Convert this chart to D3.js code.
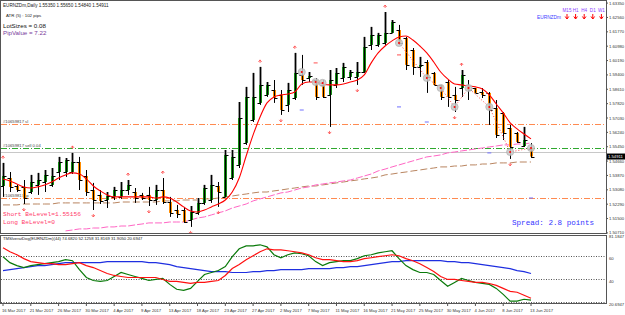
<!DOCTYPE html>
<meta charset="utf-8">
<style>
body { margin:0; background:#fff; }
svg { display:block; font-family: "Liberation Sans", Arial, sans-serif; }
.lbl { font-size:4.2px; fill:#333; }
</style>
<script src="https://cdn.jsdelivr.net/npm/d3@7/dist/d3.min.js"></script>
<body>
<div id="chart"></div>
<script>
// daily bars 16 Mar 2017 .. 13 Jun 2017 (broker with Sunday bars)
var dateLabels = ["16 Mar 2017","21 Mar 2017","26 Mar 2017","30 Mar 2017","4 Apr 2017","9 Apr 2017",
  "13 Apr 2017","18 Apr 2017","23 Apr 2017","27 Apr 2017","2 May 2017","7 May 2017","11 May 2017",
  "16 May 2017","21 May 2017","25 May 2017","30 May 2017","4 Jun 2017","8 Jun 2017","13 Jun 2017"];

var open = [1.5329,1.5373,1.5329,1.5324,1.5296,1.5335,1.5351,1.5335,1.5406,1.5406,
  1.5406,1.5461,1.5384,1.5307,1.5280,1.5252,1.5269,1.5269,1.5307,1.5296,
  1.5280,1.5280,1.5252,1.5307,1.5241,1.5197,1.5197,1.5142,1.5181,1.5236,
  1.5252,1.5329,1.5269,1.5373,1.5445,1.5566,1.5692,1.5786,1.5830,1.5857,
  1.5830,1.5775,1.5813,1.5940,1.5923,1.5912,1.5885,1.5830,1.5885,1.5923,
  1.5929,1.5929,1.5956,1.6105,1.6105,1.6116,1.6171,1.6187,1.6143,1.6077,
  1.5984,1.6011,1.5951,1.5885,1.5901,1.5830,1.5868,1.5885,1.5868,1.5846,
  1.5841,1.5758,1.5731,1.5648,1.5621,1.5549,1.5535];
var high = [1.5456,1.5406,1.5335,1.5362,1.5390,1.5401,1.5417,1.5428,1.5489,1.5483,
  1.5511,1.5489,1.5417,1.5346,1.5307,1.5296,1.5324,1.5351,1.5362,1.5318,
  1.5291,1.5324,1.5335,1.5373,1.5269,1.5225,1.5214,1.5219,1.5263,1.5335,
  1.5390,1.5351,1.5527,1.5527,1.5791,1.5874,1.5951,1.5984,1.5901,1.5912,
  1.5857,1.5896,1.6061,1.6050,1.5956,1.5923,1.5912,1.5967,1.5978,1.6006,
  1.5967,1.6011,1.6149,1.6204,1.6171,1.6286,1.6242,1.6215,1.6149,1.6088,
  1.6039,1.6022,1.5956,1.5885,1.5912,1.5874,1.5967,1.5912,1.5868,1.5868,
  1.5846,1.5802,1.5736,1.5665,1.5626,1.5654,1.5565];
var low = [1.5269,1.5296,1.5296,1.5230,1.5285,1.5280,1.5296,1.5324,1.5362,1.5379,
  1.5395,1.5307,1.5274,1.5197,1.5230,1.5208,1.5252,1.5258,1.5280,1.5236,
  1.5252,1.5219,1.5225,1.5230,1.5159,1.5153,1.5126,1.5104,1.5170,1.5225,
  1.5236,1.5214,1.5269,1.5362,1.5428,1.5555,1.5681,1.5775,1.5819,1.5786,
  1.5720,1.5736,1.5802,1.5885,1.5901,1.5802,1.5813,1.5654,1.5868,1.5901,
  1.5912,1.5885,1.5951,1.6077,1.6094,1.6105,1.6171,1.6105,1.5967,1.5940,
  1.5929,1.5841,1.5885,1.5802,1.5764,1.5736,1.5819,1.5802,1.5841,1.5813,
  1.5665,1.5593,1.5582,1.5478,1.5566,1.5544,1.5484];
var close = [1.5384,1.5324,1.5307,1.5263,1.5351,1.5362,1.5390,1.5384,1.5461,1.5472,
  1.5461,1.5362,1.5296,1.5252,1.5247,1.5274,1.5307,1.5307,1.5335,1.5263,
  1.5263,1.5252,1.5307,1.5241,1.5181,1.5175,1.5131,1.5186,1.5236,1.5318,
  1.5335,1.5296,1.5500,1.5489,1.5703,1.5819,1.5819,1.5885,1.5885,1.5813,
  1.5747,1.5857,1.5951,1.5912,1.5934,1.5819,1.5819,1.5912,1.5951,1.5984,
  1.5956,1.5956,1.6094,1.6160,1.6160,1.6171,1.6231,1.6116,1.5995,1.5984,
  1.5995,1.5929,1.5885,1.5819,1.5819,1.5802,1.5940,1.5857,1.5841,1.5830,
  1.5747,1.5610,1.5621,1.5544,1.5571,1.5582,1.54911];

// moving averages
var maRed = [1.5368,1.5357,1.5340,1.5324,1.5318,1.5324,1.5335,1.5351,1.5373,1.5390,
  1.5401,1.5395,1.5368,1.5329,1.5302,1.5280,1.5269,1.5269,1.5269,1.5269,
  1.5269,1.5269,1.5263,1.5269,1.5263,1.5241,1.5214,1.5192,1.5186,1.5197,
  1.5214,1.5230,1.5252,1.5296,1.5373,1.5494,1.5610,1.5709,1.5786,1.5819,
  1.5830,1.5835,1.5846,1.5890,1.5901,1.5901,1.5890,1.5885,1.5885,1.5890,
  1.5901,1.5912,1.5940,1.6006,1.6061,1.6099,1.6127,1.6149,1.6154,1.6132,
  1.6099,1.6061,1.6011,1.5956,1.5918,1.5890,1.5885,1.5879,1.5874,1.5863,
  1.5830,1.5780,1.5731,1.5676,1.5643,1.5615,1.5588];
var maPink = [null,null,null,null,null,null,null,null,null,1.5082,
  1.5087,1.5093,1.5093,1.5098,1.5098,1.5104,1.5104,1.5109,1.5109,1.5115,
  1.5120,1.5126,1.5126,1.5126,1.5131,1.5131,1.5131,1.5142,1.5153,1.5159,
  1.5170,1.5181,1.5192,1.5208,1.5219,1.5230,1.5247,1.5258,1.5269,1.5280,
  1.5291,1.5296,1.5307,1.5318,1.5324,1.5335,1.5340,1.5346,1.5351,1.5357,
  1.5362,1.5373,1.5384,1.5395,1.5412,1.5422,1.5434,1.5445,1.5456,1.5467,
  1.5478,1.5489,1.5494,1.5500,1.5511,1.5516,1.5522,1.5527,1.5533,1.5538,
  1.5544,1.5549,1.5555,1.5555,1.5560,1.5560,1.5566];
var maBrown = [1.5225,1.5225,1.5225,1.5230,1.5230,1.5230,1.5230,1.5230,1.5236,1.5236,
  1.5236,1.5236,1.5236,1.5236,1.5236,1.5236,1.5236,1.5241,1.5241,1.5241,
  1.5241,1.5241,1.5241,1.5247,1.5247,1.5247,1.5252,1.5252,1.5252,1.5258,
  1.5258,1.5263,1.5269,1.5274,1.5280,1.5285,1.5291,1.5296,1.5296,1.5302,
  1.5307,1.5313,1.5318,1.5324,1.5329,1.5329,1.5335,1.5340,1.5346,1.5351,
  1.5357,1.5362,1.5368,1.5373,1.5379,1.5390,1.5395,1.5401,1.5406,1.5412,
  1.5417,1.5423,1.5428,1.5434,1.5434,1.5439,1.5439,1.5445,1.5445,1.5450,
  1.5450,1.5456,1.5456,1.5456,1.5461,1.5461,1.5461];

// oscillator sub window
var oscGreen = [59.6,54.4,51.8,50.1,51.8,52.7,53.5,54.4,55.3,57.0,
  56.1,48.3,41.4,38.8,38.0,38.8,42.3,45.8,44.0,42.3,
  40.6,38.8,39.7,40.6,35.4,31.1,30.2,31.9,38.0,44.0,
  45.8,47.5,50.9,59.6,66.5,69.1,69.1,70.0,68.2,61.3,
  58.7,61.3,63.0,62.2,60.4,55.3,51.8,54.4,55.3,56.1,
  56.1,57.9,60.4,61.3,63.0,63.9,64.8,57.9,51.8,48.3,
  45.8,45.8,44.0,38.8,33.7,37.1,40.6,38.8,37.1,36.2,
  35.4,31.9,26.7,20.7,20.7,22.4,21.6];
var oscRed = [67.4,63.9,61.3,57.9,55.3,54.4,53.5,53.5,52.7,52.7,
  53.5,54.4,51.8,50.1,47.5,44.9,43.2,42.3,41.4,41.4,
  41.4,41.4,41.4,39.7,38.0,38.0,37.1,36.2,37.1,37.1,
  38.0,38.8,43.2,49.2,52.7,57.0,60.4,63.9,66.5,65.6,
  65.6,64.8,63.9,63.0,61.3,58.7,57.0,57.0,56.1,55.3,
  55.3,56.1,57.9,58.7,59.6,60.4,61.3,60.4,57.9,56.1,
  53.5,50.1,46.6,42.3,39.7,39.7,38.8,38.0,37.1,37.1,
  36.2,34.5,31.9,29.3,28.5,25.9,23.3];
var oscBlue = [47.5,48.3,49.2,50.1,50.9,51.8,51.8,52.7,53.5,54.4,
  54.4,54.4,54.4,54.4,54.4,55.3,55.3,55.3,55.3,55.3,
  55.3,54.4,54.4,53.5,52.7,50.9,50.1,49.2,48.3,47.5,
  46.6,46.6,46.6,45.8,45.8,45.8,46.6,46.6,47.5,47.5,
  48.3,48.3,48.3,48.3,49.2,49.2,49.2,49.2,50.1,50.1,
  50.9,50.9,51.8,52.7,53.5,54.4,55.3,55.3,56.1,56.1,
  56.1,56.1,56.1,56.1,55.3,55.3,54.4,54.4,53.5,52.7,
  51.8,50.9,50.1,49.2,47.5,46.6,44.9];
var oscLevels = [60, 40, 20];
var oscAxisLabels = ["81.1847", "60", "40", "20.6947"];

var priceTicks = [1.6335,1.6256,1.6177,1.6098,1.6019,1.5940,1.5861,1.5782,1.5703,
  1.5624,1.5545,1.5466,1.5387,1.5308,1.5229,1.5150,1.5071];

// fractals, markers, order lines
var fractalUp = [0,10,18,23,37,42,55,66];
var fractalDown = [3,13,21,27,31,40,47,51,65,73];
var circleBar = [43,45,46,57,61,63,65,67,70,73,76];
var circlePrice = [1.5956,1.5901,1.5896,1.6116,1.5923,1.5868,1.5764,1.5868,1.5764,1.5516,1.5538];
var blueBar = [43,57,61,70,76];
var bluePrice = [1.5747,1.5764,1.5681,1.5511,1.5263];
var redDashBar = [45,57];
var redDashPrice = [1.6006,1.6050];
var slLevel = 1.5670, sellLevel = 1.5538, tpLevel = 1.5263, beLevel = 1.55156;

var W = 625, H = 315;
var svg = d3.select("#chart").append("svg").attr("width", W).attr("height", H);

var x = d3.scaleLinear().domain([0, 76]).range([3, 531]);
var y = d3.scaleLinear().domain([1.50815, 1.63355]).range([231, 3]);
var yo = d3.scaleLinear().domain([20, 81.1847]).range([302, 232]);
var n = open.length;

svg.append("clipPath").attr("id", "mainClip").append("rect")
  .attr("x", 1).attr("y", 1).attr("width", 605).attr("height", 232);
svg.append("clipPath").attr("id", "oscClip").append("rect")
  .attr("x", 1).attr("y", 235).attr("width", 605).attr("height", 69);

var main = svg.append("g").attr("clip-path", "url(#mainClip)");

// order lines
function hline(p, color, dash) {
  main.append("line").attr("x1", 1).attr("x2", 606)
    .attr("y1", Math.round(y(p)) + 0.5).attr("y2", Math.round(y(p)) + 0.5)
    .attr("stroke", color).attr("stroke-width", 1).attr("stroke-dasharray", dash);
}
hline(slLevel, "#ff8a50", "6,2,1,2");
hline(sellLevel, "#2ea82e", "6,2,1,2");
hline(beLevel, "#c8c8c8", null);
hline(tpLevel, "#ff8a50", "6,2,1,2");

var small = [["#10659817 sl", slLevel], ["#10659817 sell 0.04", sellLevel], ["#10659817 tp", tpLevel]];
small.forEach(function(d) {
  main.append("text").attr("x", 3).attr("y", y(d[1]) - 1.5)
    .attr("font-size", "4.2px").attr("fill", "#444").text(d[0]);
});

// long MAs
main.append("path").datum(d3.range(n))
  .attr("fill", "none").attr("stroke", "#b98560").attr("stroke-width", 1).attr("stroke-dasharray", "7,3")
  .attr("d", d3.line().x(function(i) { return x(i); }).y(function(i) { return y(maBrown[i]); }));
main.append("path").datum(d3.range(n))
  .attr("fill", "none").attr("stroke", "#ff66c4").attr("stroke-width", 1).attr("stroke-dasharray", "7,2")
  .attr("d", d3.line().defined(function(i) { return maPink[i] != null; })
    .x(function(i) { return x(i); }).y(function(i) { return y(maPink[i]); }));

// bars
var bars = main.append("g");
d3.range(n).forEach(function(i) {
  var cx = Math.round(x(i)) + 0.5;
  var up = close[i] > open[i];
  if (up) {
    bars.append("rect").attr("x", cx - 1.5).attr("width", 3)
      .attr("y", y(high[i])).attr("height", y(close[i]) - y(high[i])).attr("fill", "#9a9a9a");
    bars.append("rect").attr("x", cx - 1.5).attr("width", 3)
      .attr("y", y(close[i])).attr("height", y(open[i]) - y(close[i])).attr("fill", "#138a13");
  } else {
    bars.append("rect").attr("x", cx - 1.5).attr("width", 3)
      .attr("y", y(open[i])).attr("height", Math.max(1, y(close[i]) - y(open[i]))).attr("fill", "#ff8c00");
  }
  bars.append("line").attr("x1", cx).attr("x2", cx).attr("y1", y(high[i])).attr("y2", y(low[i]))
    .attr("stroke", "#000").attr("stroke-width", 1);
  bars.append("line").attr("x1", cx - 3).attr("x2", cx).attr("y1", Math.round(y(open[i])) + 0.5)
    .attr("y2", Math.round(y(open[i])) + 0.5).attr("stroke", "#000");
  bars.append("line").attr("x1", cx).attr("x2", cx + 3).attr("y1", Math.round(y(close[i])) + 0.5)
    .attr("y2", Math.round(y(close[i])) + 0.5).attr("stroke", "#000");
});

// fast MA
main.append("path").datum(d3.range(n))
  .attr("fill", "none").attr("stroke", "#ff0000").attr("stroke-width", 1.1)
  .attr("d", d3.line().curve(d3.curveMonotoneX).x(function(i) { return x(i); }).y(function(i) { return y(maRed[i]); }));

// red dotted trail through the circle markers
var trail = circleBar.map(function(b, k) { return [b, circlePrice[k]]; }).filter(function(d) { return d[0] >= 57; });
main.append("path").datum(trail).attr("fill", "none").attr("stroke", "#ff4040")
  .attr("stroke-width", 1).attr("stroke-dasharray", "1,2")
  .attr("d", d3.line().x(function(d) { return x(d[0]); }).y(function(d) { return y(d[1]); }));

circleBar.forEach(function(b, k) {
  main.append("circle").attr("cx", x(b)).attr("cy", y(circlePrice[k])).attr("r", 3.6)
    .attr("fill", "#c8c8c8").attr("fill-opacity", 0.85).attr("stroke", "#aaaaaa").attr("stroke-width", 0.6);
  main.append("circle").attr("cx", x(b)).attr("cy", y(circlePrice[k])).attr("r", 1).attr("fill", "#ff0000");
});
blueBar.forEach(function(b, k) {
  main.append("line").attr("x1", x(b) - 2).attr("x2", x(b) + 2)
    .attr("y1", y(bluePrice[k])).attr("y2", y(bluePrice[k])).attr("stroke", "#7070ff").attr("stroke-width", 1);
});
redDashBar.forEach(function(b, k) {
  main.append("line").attr("x1", x(b) - 2).attr("x2", x(b) + 2)
    .attr("y1", y(redDashPrice[k])).attr("y2", y(redDashPrice[k])).attr("stroke", "#ff5050").attr("stroke-width", 1);
});

// fractal arrows (small)
fractalUp.forEach(function(i) {
  var t = y(high[i]) - 7, cx = x(i);
  main.append("path").attr("d", "M" + (cx - 1.6) + "," + (t + 2) + "L" + cx + "," + t + "L" + (cx + 1.6) + "," + (t + 2) +
    "M" + cx + "," + t + "V" + (t + 3)).attr("fill", "none").attr("stroke", "#ff4a4a").attr("stroke-width", 0.8);
});
fractalDown.forEach(function(i) {
  var t = y(low[i]) + 7, cx = x(i);
  main.append("path").attr("d", "M" + (cx - 1.6) + "," + (t - 2) + "L" + cx + "," + t + "L" + (cx + 1.6) + "," + (t - 2) +
    "M" + cx + "," + t + "V" + (t - 3)).attr("fill", "none").attr("stroke", "#ff4a4a").attr("stroke-width", 0.8);
});

// texts on the main window
var last = n - 1;
var fmt = d3.format(".5f");
svg.append("text").attr("x", 3).attr("y", 6.5).attr("font-size", "4.6px").attr("fill", "#222")
  .text("EURNZDm,Daily  " + fmt(open[last]) + " " + fmt(high[last]) + " " + fmt(low[last]) + " " + fmt(close[last]));
svg.append("text").attr("x", 6).attr("y", 16.5).attr("font-size", "4.4px").attr("fill", "#222").text("ATR (5) :  102 pips");
svg.append("text").attr("x", 3).attr("y", 28).attr("font-size", "6.2px").attr("fill", "#111").text("LotSizes = 0.08");
svg.append("text").attr("x", 3).attr("y", 35).attr("font-size", "6.2px").attr("fill", "#7a3a9a").text("PipValue = 7.22");

var tfs = ["M15", "H1", "H4", "D1", "W1"];
tfs.forEach(function(t, k) {
  var tx = 567 + k * 8.6;
  svg.append("text").attr("x", tx).attr("y", 12).attr("text-anchor", "middle")
    .attr("font-size", "4.6px").attr("fill", "#8a3cff").text(t);
  svg.append("path").attr("d", "M" + (tx - 1.8) + ",16.5L" + tx + ",19L" + (tx + 1.8) + ",16.5M" + tx + ",14V19")
    .attr("fill", "none").attr("stroke", "#ff0000").attr("stroke-width", 1);
});
svg.append("text").attr("x", 537).attr("y", 19).attr("font-size", "4.8px").attr("fill", "#4040ff").text("EURNZDm");

svg.append("text").attr("x", 3).attr("y", 216).attr("font-family", "Liberation Mono, monospace")
  .attr("font-size", "6.2px").attr("fill", "#ff3a6a").text("Short BeLevel=" + fmt(beLevel));
svg.append("text").attr("x", 3).attr("y", 224).attr("font-family", "Liberation Mono, monospace")
  .attr("font-size", "6.2px").attr("fill", "#ff3a6a").text("Long BeLevel=0");
svg.append("text").attr("x", 512).attr("y", 225).attr("font-family", "Liberation Mono, monospace")
  .attr("font-size", "7.6px").attr("fill", "#3535ff").text("Spread: 2.8 points");

// oscillator window
var osc = svg.append("g").attr("clip-path", "url(#oscClip)");
oscLevels.forEach(function(v) {
  osc.append("line").attr("x1", 1).attr("x2", 606)
    .attr("y1", Math.round(yo(v)) + 0.5).attr("y2", Math.round(yo(v)) + 0.5)
    .attr("stroke", "#555").attr("stroke-dasharray", "1,1.5");
});
[[oscBlue, "#1f2fe0"], [oscGreen, "#0a7a0a"], [oscRed, "#ff1010"]].forEach(function(s) {
  osc.append("path").datum(s[0]).attr("fill", "none").attr("stroke", s[1]).attr("stroke-width", 1.2)
    .attr("d", d3.line().x(function(d, i) { return x(i); }).y(function(d) { return yo(d); }));
});
svg.append("text").attr("x", 3).attr("y", 240).attr("font-size", "4.2px").attr("fill", "#222")
  .text("TMSlveratDog(EURNZDm)(44) 74.6820 52.1258 31.8169 31.9050 20.6947");

// frames
svg.append("rect").attr("x", 0.5).attr("y", 0.5).attr("width", 606).attr("height", 233)
  .attr("fill", "none").attr("stroke", "#555");
svg.append("rect").attr("x", 0.5).attr("y", 235.5).attr("width", 606).attr("height", 68)
  .attr("fill", "none").attr("stroke", "#555");

// price axis
priceTicks.forEach(function(p) {
  svg.append("line").attr("x1", 606).attr("x2", 608).attr("y1", y(p)).attr("y2", y(p)).attr("stroke", "#555");
  svg.append("text").attr("class", "lbl").attr("x", 609).attr("y", y(p) + 1.5).text(fmt(p));
});
var cy = y(close[last]);
svg.append("rect").attr("x", 607).attr("y", cy - 3).attr("width", 18).attr("height", 6).attr("fill", "#000");
svg.append("text").attr("class", "lbl").attr("x", 608).attr("y", cy + 1.5)
  .style("fill", "#fff").text(fmt(close[last]));

var oscTickVals = [81.1847, 60, 40, 20];
oscTickVals.forEach(function(v, k) {
  svg.append("text").attr("class", "lbl").attr("x", 609).attr("y", Math.max(yo(v) + 4, 238)).text(oscAxisLabels[k]);
});

// date axis
dateLabels.forEach(function(t, k) {
  var px = x(k * 4);
  svg.append("line").attr("x1", px).attr("x2", px).attr("y1", 304).attr("y2", 306).attr("stroke", "#555");
  svg.append("text").attr("class", "lbl").attr("x", px - 1).attr("y", 311.5).text(t);
});
</script>
</body>
